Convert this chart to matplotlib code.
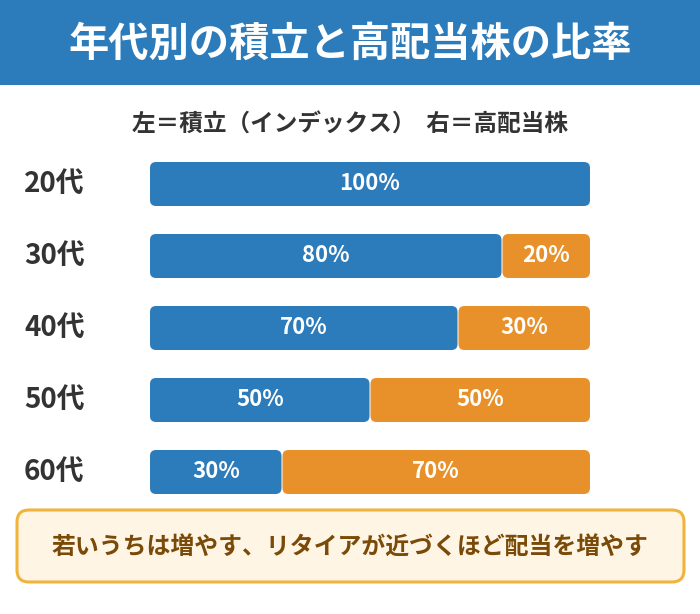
import matplotlib.pyplot as plt
from matplotlib.patches import FancyBboxPatch, Rectangle
from matplotlib.transforms import blended_transform_factory

plt.rcParams['font.family'] = ['Noto Sans CJK JP', 'DejaVu Sans']

# データ
ages = ['20代', '30代', '40代', '50代', '60代']
index_share = [100, 80, 70, 50, 30]      # 積立(インデックス)
dividend_share = [0, 20, 30, 50, 70]     # 高配当株

BLUE = '#2C7BBA'
ORANGE = '#E8912B'

W, H = 700, 614
fig = plt.figure(figsize=(W / 100, H / 100), dpi=100)

# 背景用(ピクセル座標)
bg = fig.add_axes([0, 0, 1, 1])
bg.set_xlim(0, W)
bg.set_ylim(H, 0)
bg.axis('off')

bg.add_patch(Rectangle((0, 0), W, 85, color=BLUE, lw=0))
bg.text(W / 2, 44, '年代別の積立と高配当株の比率', color='white', fontsize=29,
        fontweight='bold', ha='center', va='center')
bg.text(W / 2, 125, '左＝積立（インデックス）  右＝高配当株', color='#333333', fontsize=17,
        fontweight='bold', ha='center', va='center')

# 下のメモ欄
bg.add_patch(FancyBboxPatch((17, 510), 667, 72, boxstyle='round,pad=0,rounding_size=12',
                            facecolor='#FFF5E4', edgecolor='#F0B43C', lw=2.2))
bg.text(W / 2, 547, '若いうちは増やす、リタイアが近づくほど配当を増やす', color='#7A4A08',
        fontsize=17.2, fontweight='bold', ha='center', va='center')

# 棒グラフ
ax = fig.add_axes([150 / W, (H - 508) / H, 440 / W, 360 / H])
ax.set_xlim(0, 100)
ax.set_ylim(len(ages) - 0.5, -0.5)
ax.axis('off')

px_x = 440 / 100       # 1単位あたりのピクセル(横)
px_y = 360 / len(ages)  # 1単位あたりのピクセル(縦)
bar_h = 44 / px_y
r = 6 / px_x
gap = 0.5 / px_x
box = f'round,pad=0,rounding_size={r}'

lab_tr = blended_transform_factory(fig.transFigure, ax.transData)
for i, (age, a, b) in enumerate(zip(ages, index_share, dividend_share)):
    ga = gap if b > 0 else 0
    ax.add_patch(FancyBboxPatch((0, i - bar_h / 2), a - ga, bar_h, boxstyle=box,
                                mutation_aspect=px_x / px_y,
                                facecolor=BLUE, edgecolor='none'))
    ax.text(a / 2, i, f'{a}%', color='white', fontsize=16,
            fontweight='bold', ha='center', va='center')
    if b > 0:
        ax.add_patch(FancyBboxPatch((a + gap, i - bar_h / 2), b - gap, bar_h, boxstyle=box,
                                    mutation_aspect=px_x / px_y,
                                    facecolor=ORANGE, edgecolor='none'))
        ax.text(a + b / 2, i, f'{b}%', color='white', fontsize=16,
                fontweight='bold', ha='center', va='center')
    ax.text(24 / W, i, age, transform=lab_tr, color='#333333', fontsize=20,
            fontweight='bold', ha='left', va='center')

fig.savefig('out.png', dpi=100)
